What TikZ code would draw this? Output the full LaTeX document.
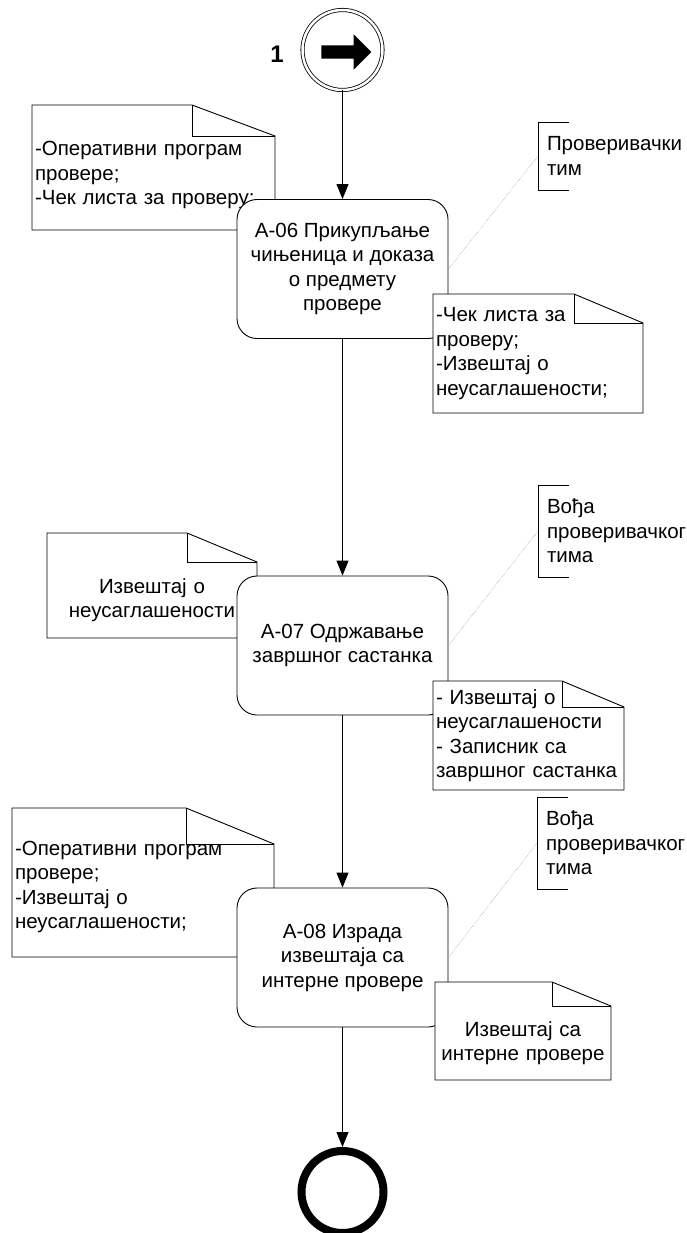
\documentclass[tikz,border=0pt]{standalone}
\usepackage{fontspec}
\setmainfont{Liberation Sans}
\usepackage{tikz}
\usetikzlibrary{arrows.meta, shapes.arrows, positioning}

\tikzset{
  activity/.style={draw, fill=white, rounded corners=20pt, line width=.9pt,
    minimum width=211pt, minimum height=139pt, align=center, inner sep=0pt},
  note/.style={anchor=north west, fill=white, outer sep=0pt, inner xsep=3pt, inner ysep=0pt},
  performer/.style={anchor=north west, minimum height=92pt, inner xsep=9pt,
    inner ysep=0pt, outer sep=0pt, align=left},
  link/.style={densely dotted, gray!80, line width=.5pt},
  flow/.style={->, line width=.9pt},
}

% beleska sa savijenim uglom: [visak gore]{cvor}{sirina}{visina}
\newcommand{\foldnote}[4][0]{%
  \fill[white] (#2.north west) rectangle ([yshift=#1]#2.north east);
  \draw[line width=.9pt] ([yshift=#1]#2.north west) -- ([xshift=-#3, yshift=#1]#2.north east)
    -- ([yshift={#1-#4}]#2.north east) -- (#2.south east) -- (#2.south west) -- cycle;
  \draw[line width=.9pt] ([xshift=-#3, yshift=#1]#2.north east) |- ([yshift={#1-#4}]#2.north east);
}

\begin{document}
\begin{tikzpicture}[x=1pt, y=-1pt, >={Triangle[length=15pt, width=12pt]},
    font=\fontsize{20.5}{24.5}\selectfont]
    \fill[white] (0,0) rectangle (687,1233);
    \useasboundingbox (0,0) rectangle (687,1233);

    % Pocetak
    \node[circle, draw, double, double distance=2.5pt, line width=.8pt, minimum size=80pt] (s1) at (342.5,50) {};
    \node[single arrow, fill=black, inner sep=6.5pt, minimum width=35pt, minimum height=50pt,
      single arrow head extend=11pt] (s1icon) at (343,52) {};
    \node[font=\fontsize{24}{28}\selectfont\bfseries] (s1num) at (277,54) {1};

    % A-06
    \node[note, text width=237pt, minimum height=110pt, align=left] (n6in) at (32,120)
      {-Оперативни програм\\провере;\\-Чек листа за проверу;};
    \foldnote[15]{n6in}{83}{31}
    \node[activity] (a06) at (342.5,269) {А-06 Прикупљање\\чињеница и доказа\\о предмету\\провере};
    \node[note, text width=204pt, minimum height=119pt, align=left] (n6out) at (433,294)
      {-Чек листа за\\проверу;\\-Извештај о\\неусаглашености;};
    \foldnote{n6out}{69}{29}
    \node[performer, minimum height=68pt] (p6) at (538,122) {Проверивачки\\тим};
    \draw ([xshift=31]p6.north west) -- (p6.north west) -- (p6.south west) -- ([xshift=31]p6.south west);
    \draw[link] (a06.east) -- (p6.west);

    % A-07
    \node[note, text width=204pt, minimum height=76pt, align=center] (n7in) at (47,562)
      {Извештај о\\неусаглашености};
    \foldnote[29]{n7in}{70}{29}
    \node[activity] (a07) at (342.5,645.5) {А-07 Одржавање\\завршног састанка};
    \node[note, text width=185pt, minimum height=109pt, align=left] (n7out) at (433,681)
      {- Извештај о\\неусаглашености\\- Записник са\\завршног састанка};
    \foldnote{n7out}{62}{26}
    \node[performer] (p7) at (538,485) {Вођа\\проверивачког\\тима};
    \draw ([xshift=31]p7.north west) -- (p7.north west) -- (p7.south west) -- ([xshift=31]p7.south west);
    \draw[link] (a07.east) -- (p7.west);

    % A-08
    \node[note, text width=256pt, minimum height=140pt, align=left] (n8in) at (12,817)
      {-Оперативни програм\\провере;\\-Извештај о\\неусаглашености;};
    \foldnote[9]{n8in}{88}{36}
    \node[activity] (a08) at (342.5,957.5) {А-08 Израда\\извештаја са\\интерне провере};
    \node[note, text width=170pt, minimum height=74pt, align=center] (n8out) at (435,1006)
      {Извештај са\\интерне провере};
    \foldnote[24]{n8out}{59}{24}
    \node[performer] (p8) at (537,797) {Вођа\\проверивачког\\тима};
    \draw ([xshift=31]p8.north west) -- (p8.north west) -- (p8.south west) -- ([xshift=31]p8.south west);
    \draw[link] (a08.east) -- (p8.west);

    % Kraj
    \node[circle, draw, line width=8pt, minimum size=82pt] (e1) at (342.5,1192) {};

    % Tok
    \draw[flow] (s1.south) -- (a06.north);
    \draw[flow] (a06.south) -- (a07.north);
    \draw[flow] (a07.south) -- (a08.north);
    \draw[flow] (a08.south) -- (e1.north);
\end{tikzpicture}
\end{document}
